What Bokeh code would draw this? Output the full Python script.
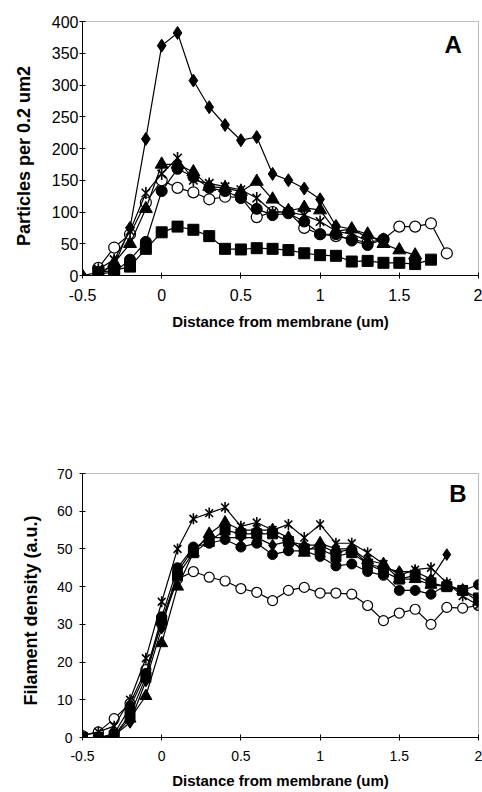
from bokeh.plotting import figure
from bokeh.layouts import column
from bokeh.models import Range1d, FixedTicker, Label
from bokeh.embed import file_html
from bokeh.resources import INLINE

# ---------------- Panel A data ----------------
a_tick_x = [-0.5, 0, 0.5, 1, 1.5, 2]
a_tick_x_labels = ["-0.5", "0", "0.5", "1", "1.5", "2"]
a_tick_y = [0, 50, 100, 150, 200, 250, 300, 350, 400]

a_diamond_x = [-0.5, -0.4, -0.3, -0.2, -0.1, 0.0, 0.1, 0.2, 0.3, 0.4, 0.5, 0.6, 0.7, 0.8, 0.9, 1.0, 1.1, 1.2, 1.3, 1.4]
a_diamond_y = [0, 5, 15, 75, 215, 362, 382, 307, 265, 237, 213, 218, 160, 150, 137, 120, 78, 73, 60, 57]

a_square_x = [-0.4, -0.3, -0.2, -0.1, 0.0, 0.1, 0.2, 0.3, 0.4, 0.5, 0.6, 0.7, 0.8, 0.9, 1.0, 1.1, 1.2, 1.3, 1.4, 1.5, 1.6, 1.7]
a_square_y = [5, 8, 14, 42, 68, 77, 72, 62, 42, 41, 43, 42, 40, 35, 32, 31, 22, 23, 20, 20, 18, 25]

a_triangle_x = [-0.4, -0.3, -0.2, -0.1, 0.0, 0.1, 0.2, 0.3, 0.4, 0.5, 0.6, 0.7, 0.8, 0.9, 1.0, 1.1, 1.2, 1.3, 1.4, 1.5, 1.6]
a_triangle_y = [0, 20, 50, 105, 175, 175, 163, 140, 138, 132, 148, 120, 102, 107, 103, 70, 73, 65, 50, 40, 32]

a_star_x = [-0.4, -0.3, -0.2, -0.1, 0.0, 0.1, 0.2, 0.3, 0.4, 0.5, 0.6, 0.7, 0.8, 0.9, 1.0, 1.1, 1.2, 1.3]
a_star_y = [10, 25, 70, 130, 160, 185, 150, 145, 140, 135, 122, 100, 100, 95, 85, 70, 65, 55]

a_circle_x = [-0.4, -0.3, -0.2, -0.1, 0.0, 0.1, 0.2, 0.3, 0.4, 0.5, 0.6, 0.7, 0.8, 0.9, 1.0, 1.1, 1.2, 1.3, 1.4]
a_circle_y = [3, 5, 25, 53, 133, 168, 155, 138, 133, 122, 105, 95, 98, 85, 65, 65, 55, 48, 57]

a_open_x = [-0.4, -0.3, -0.2, -0.1, 0.0, 0.1, 0.2, 0.3, 0.4, 0.5, 0.6, 0.7, 0.8, 0.9, 1.0, 1.1, 1.2, 1.3, 1.4, 1.5, 1.6, 1.7, 1.8]
a_open_y = [12, 44, 65, 115, 150, 138, 131, 120, 124, 123, 92, 100, 100, 75, 65, 62, 57, 52, 57, 77, 77, 82, 35]

# ---------------- Panel B data ----------------
b_tick_x = [-0.5, 0, 0.5, 1, 1.5, 2]
b_tick_x_labels = ["-0.5", "0", "0.5", "1", "1.5", "2"]
b_tick_y = [0, 10, 20, 30, 40, 50, 60, 70]

b_x = [-0.5, -0.4, -0.3, -0.2, -0.1, 0.0, 0.1, 0.2, 0.3, 0.4, 0.5, 0.6, 0.7, 0.8, 0.9, 1.0, 1.1, 1.2, 1.3, 1.4, 1.5, 1.6, 1.7, 1.8, 1.9, 2.0]
b_open_y = [0.5, 1.5, 5, 9, 18, 30, 42, 44, 42.5, 41.5, 39.5, 38.5, 36.3, 39, 39.8, 38.3, 38.3, 38, 35, 31, 33, 34, 30, 34.5, 34.3, 35]
b_star_y = [0.5, 1.5, 3, 10, 21, 36, 50, 58, 59.5, 61, 56, 57, 55, 56.5, 53, 56.5, 51.5, 51.5, 49, 46, 43, 44.5, 45, 41, 37.5, 35]
b_triangle_y = [0, 0, 0.5, 5, 11, 25, 40, 49, 54, 57, 55, 55, 55, 53, 49, 51.5, 50, 50, 47, 46, 42, 42, 40.5, 40, 39, 36]
b_circle_y = [0, 0, 1, 8, 17, 32, 45, 50.5, 51.5, 52.5, 50.5, 51.5, 48.5, 49.5, 49.5, 48, 45.5, 46, 44, 43, 39, 39, 38, 40.5, 39, 40.5]
b_square_y = [0, 0, 0.5, 6, 16, 31, 43, 49, 52, 55, 54, 54, 54, 52, 50, 50, 48, 49, 46, 44, 42, 43, 41, 40, 39, 37]
b_diamond_x = [-0.5, -0.4, -0.3, -0.2, -0.1, 0.0, 0.1, 0.2, 0.3, 0.4, 0.5, 0.6, 0.7, 0.8, 0.9, 1.0, 1.1, 1.2, 1.3, 1.4, 1.5, 1.6, 1.7, 1.8]
b_diamond_y = [0, 0, 0.5, 4, 15, 29, 44, 50, 53, 53, 53, 53, 51, 52, 51, 51, 49, 50, 46, 45, 44, 44, 42, 48.5]

FONT = "Liberation Sans"


def style(p, ticks_x, labels_x, ticks_y, xlabel, ylabel, tick_size, ylab_standoff):
    p.background_fill_color = "white"
    p.border_fill_color = "white"
    p.outline_line_color = "#777777"
    p.outline_line_dash = "1 1"
    p.outline_line_width = 1
    p.xgrid.visible = False
    p.ygrid.visible = False
    for ax in (p.xaxis[0], p.yaxis[0]):
        ax.axis_line_color = "black"
        ax.axis_line_width = 1
        ax.major_tick_line_color = "black"
        ax.major_tick_in = 3
        ax.major_tick_out = 3
        ax.minor_tick_line_color = None
        ax.major_label_text_font = FONT
        ax.major_label_text_font_size = tick_size
        ax.major_label_text_color = "black"
        ax.axis_label_text_font = FONT
        ax.axis_label_text_font_style = "bold"
        ax.axis_label_text_color = "black"
    xa = p.xaxis[0]
    xa.ticker = FixedTicker(ticks=ticks_x)
    xa.major_label_overrides = {t: l for t, l in zip(ticks_x, labels_x)}
    xa.axis_label = xlabel
    xa.axis_label_text_font_size = "15px"
    ya = p.yaxis[0]
    ya.ticker = FixedTicker(ticks=ticks_y)
    ya.axis_label = ylabel
    ya.axis_label_text_font_size = "18px"
    ya.axis_label_standoff = ylab_standoff


def draw(p, x, y, kind, size):
    p.line(x, y, line_color="black", line_width=1.2)
    if kind == "open":
        p.scatter(x, y, marker="circle", size=size, fill_color="white", line_color="black", line_width=1.2)
    elif kind == "star":
        p.scatter(x, y, marker="x", size=size, line_color="black", line_width=1.6)
        p.scatter(x, y, marker="dash", size=size, angle=1.5708, line_color="black", line_width=1.6)
    else:
        s = size * 1.3 if kind == "diamond" else size
        p.scatter(x, y, marker=kind, size=s, fill_color="black", line_color="black", line_width=1)


# ---------------- Figure A ----------------
pa = figure(width=482, height=358, output_backend="svg", toolbar_location=None,
            x_range=Range1d(-0.5, 2), y_range=Range1d(0, 400),
            min_border_left=81, min_border_right=4, min_border_top=21, min_border_bottom=83)
style(pa, a_tick_x, a_tick_x_labels, a_tick_y, "Distance from membrane (um)",
      "Particles  per  0.2  um2", "16px", 15)
pa.yaxis[0].major_label_standoff = 1
pa.xaxis[0].major_label_standoff = 10
pa.xaxis[0].axis_label_standoff = 9
draw(pa, a_open_x, a_open_y, "open", 11)
draw(pa, a_square_x, a_square_y, "square", 11)
draw(pa, a_circle_x, a_circle_y, "circle", 11)
draw(pa, a_star_x, a_star_y, "star", 12)
draw(pa, a_triangle_x, a_triangle_y, "triangle", 13)
draw(pa, a_diamond_x, a_diamond_y, "diamond", 10)
pa.add_layout(Label(x=1.84, y=363, text="A", text_font=FONT, text_font_style="bold",
                    text_font_size="24px", text_align="center", text_baseline="middle",
                    text_color="black"))

# ---------------- Figure B ----------------
pb = figure(width=482, height=434, output_backend="svg", toolbar_location=None,
            x_range=Range1d(-0.5, 2), y_range=Range1d(0, 70),
            min_border_left=82, min_border_right=1, min_border_top=115, min_border_bottom=55)
style(pb, b_tick_x, b_tick_x_labels, b_tick_y, "Distance from membrane (um)",
      "Filament  density  (a.u.)", "14px", 13)
pb.yaxis[0].major_label_standoff = 7
pb.xaxis[0].major_label_standoff = 10
pb.xaxis[0].axis_label_standoff = 8
draw(pb, b_x, b_open_y, "open", 10)
draw(pb, b_x, b_square_y, "square", 10)
draw(pb, b_x, b_circle_y, "circle", 10)
draw(pb, b_x, b_triangle_y, "triangle", 12)
draw(pb, b_x, b_star_y, "star", 11)
draw(pb, b_diamond_x, b_diamond_y, "diamond", 9)
pb.add_layout(Label(x=1.87, y=64.8, text="B", text_font=FONT, text_font_style="bold",
                    text_font_size="24px", text_align="center", text_baseline="middle",
                    text_color="black"))

layout = column(pa, pb, spacing=0)
open("out.html", "w").write(file_html(layout, INLINE))
